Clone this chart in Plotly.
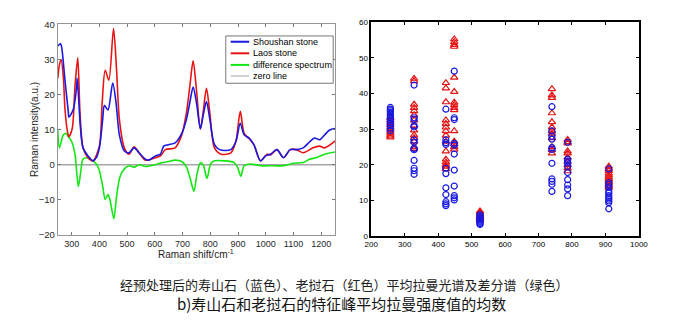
import plotly.graph_objects as go

# ---------------- data: left panel (spectra) ----------------
shift_blue = [250, 260, 264, 276, 288, 290, 306, 318, 320, 332, 341, 359, 377, 389, 400, 412, 418, 431, 448,
              460, 472, 490, 507, 525, 543, 566, 578, 602, 620, 632, 649, 673, 697, 714, 726, 738, 750, 764,
              774, 786, 798, 815, 833, 874, 892, 908, 922, 940, 957, 981, 999, 1017, 1040, 1064, 1088, 1111,
              1135, 1159, 1176, 1194, 1212, 1230, 1250]
shoushan = [33.8, 34.5, 33.5, 24.0, 15.0, 13.5, 15.8, 22.3, 24.6, 10.3, 4.8, 2.5, 1.1, 2.0, 4.8, 13.0, 16.9,
            15.6, 23.3, 17.7, 8.5, 3.9, 3.4, 4.8, 3.4, 1.6, 1.3, 2.5, 3.0, 5.3, 5.7, 6.2, 8.9, 13.0, 17.7,
            22.1, 17.7, 10.3, 14.0, 18.0, 13.0, 5.7, 4.3, 4.3, 6.6, 11.8, 8.5, 7.6, 5.7, 1.1, 2.5, 3.0, 4.3,
            2.0, 4.3, 4.3, 4.8, 6.6, 7.6, 7.1, 8.5, 9.9, 10.3]

shift_red = [250, 256, 262, 270, 276, 285, 290, 302, 312, 322, 330, 341, 359, 377, 400, 410, 421, 434, 451,
             462, 472, 490, 507, 525, 543, 566, 602, 620, 638, 673, 697, 714, 726, 738, 750, 764, 774, 786,
             798, 815, 839, 874, 892, 908, 922, 940, 957, 981, 1005, 1017, 1040, 1064, 1088, 1111, 1135,
             1170, 1194, 1212, 1250]
laos = [24.6, 28.5, 30.0, 25.0, 15.8, 9.4, 8.0, 10.3, 22.3, 30.5, 14.9, 4.8, 2.0, 1.1, 5.3, 17.7, 26.9, 24.1,
        38.8, 26.9, 13.0, 4.8, 3.0, 5.1, 3.4, 1.3, 2.0, 2.5, 4.3, 4.8, 8.5, 14.9, 22.3, 29.6, 21.3, 10.1,
        14.9, 21.8, 14.9, 4.8, 3.0, 3.4, 6.6, 15.2, 8.9, 7.4, 5.7, 1.1, 3.0, 2.8, 4.3, 2.0, 4.3, 4.3, 3.4,
        4.8, 5.3, 4.8, 6.8]

shift_green = [250, 256, 270, 280, 288, 300, 312, 324, 332, 341, 353, 371, 389, 400, 412, 421, 431, 438, 452,
               462, 474, 490, 507, 525, 543, 566, 602, 626, 649, 673, 697, 714, 726, 741, 752, 764, 774, 788,
               801, 815, 851, 886, 898, 910, 922, 946, 981, 1028, 1064, 1099, 1135, 1159, 1182, 1212, 1250]
difference = [9.9, 4.8, 8.5, 8.9, 8.0, 6.6, 3.0, -6.2, -2.5, 1.6, 2.0, 1.3, 0.2, -1.7, -6.2, -9.9, -8.5,
              -9.9, -15.4, -9.0, -3.5, -1.2, -0.3, -0.7, 0.0, -0.5, 0.0, 0.6, 0.9, 1.3, 0.9, -0.7, -3.5, -7.6,
              -2.6, 0.5, 0.0, -3.9, 0.2, 1.1, 1.1, 0.6, -0.7, -3.3, -0.3, 0.2, -0.3, -0.3, -0.3, 0.4, 0.6,
              1.6, 2.0, 3.0, 3.6]

zero_x = [250, 1250]
zero_y = [0, 0]

series_names = ["Shoushan stone", "Laos stone", "difference spectrum", "zero line"]

# ---------------- data: right panel (peak intensity scatter) ----------------
blue_x = ([257] * 13 + [328] * 13 + [423] * 11 + [448] * 11 + [525] * 10 + [740] * 11 + [787] * 10 + [910] * 12)
blue_y = [36.1, 35.6, 35.2, 34.7, 34.2, 33.8, 33.3, 32.9, 32.3, 31.7, 31.0, 30.3, 29.6,
          42.4, 33.2, 32.7, 31.0, 30.6, 26.9, 26.3, 24.6, 24.2, 21.2, 19.0, 18.3, 17.3,
          35.6, 27.0, 26.2, 25.7, 19.0, 17.5, 13.5, 11.6, 9.6, 9.0, 8.5,
          46.3, 33.2, 32.7, 26.0, 25.5, 23.0, 18.5, 14.0, 11.3, 10.7, 10.1,
          6.0, 5.6, 5.3, 5.0, 4.7, 4.4, 4.1, 3.8, 3.5, 3.2,
          36.3, 29.5, 28.0, 27.2, 24.8, 24.3, 20.4, 16.0, 15.3, 14.5, 12.5,
          26.3, 21.5, 21.0, 20.5, 19.5, 17.8, 15.8, 14.3, 13.2, 11.3,
          18.8, 15.0, 14.5, 13.8, 12.5, 12.0, 11.3, 10.8, 10.3, 9.8, 9.3, 7.6]

red_x = ([257] * 10 + [328] * 14 + [423] * 15 + [448] * 15 + [525] * 9 + [740] * 12 + [787] * 10 + [910] * 12)
red_y = [33.2, 32.5, 31.8, 31.2, 30.5, 29.9, 29.3, 28.8, 28.2, 27.7,
         44.2, 43.5, 36.9, 36.0, 35.1, 34.0, 32.5, 31.0, 29.7, 28.3, 27.5, 26.5, 25.0, 24.5,
         43.0, 41.5, 37.6, 32.5, 31.5, 30.5, 29.5, 28.2, 26.5, 23.8, 21.5, 20.7, 20.0, 19.5, 18.8,
         55.3, 54.5, 53.7, 53.2, 44.5, 40.5, 37.5, 36.8, 36.0, 35.4, 29.5, 26.5, 25.8, 25.0, 24.3,
         6.9, 6.5, 6.2, 5.9, 5.6, 5.3, 5.0, 4.7, 4.4,
         41.3, 39.5, 38.8, 34.5, 32.0, 30.5, 29.5, 28.8, 27.5, 25.0, 24.2, 23.2,
         27.0, 26.4, 26.0, 23.8, 23.2, 22.0, 20.8, 20.0, 19.0, 18.2,
         19.5, 18.8, 18.3, 17.5, 17.0, 16.5, 16.0, 15.5, 15.0, 14.5, 14.0, 13.5]

left_yticks = [-20, -10, 0, 10, 20, 30, 40]
left_xticks = [300, 400, 500, 600, 700, 800, 900, 1000, 1100, 1200]
right_xticks = [200, 300, 400, 500, 600, 700, 800, 900, 1000]
right_yticks = [0, 10, 20, 30, 40, 50, 60]

caption1 = "经预处理后的寿山石（蓝色）、老挝石（红色）平均拉曼光谱及差分谱（绿色）"
caption2 = "b)寿山石和老挝石的特征峰平均拉曼强度值的均数"

# ---------------- styles ----------------
BLUE = "rgb(25,25,225)"
RED = "rgb(230,20,20)"
GREEN = "rgb(20,230,20)"
GRAY = "rgb(165,165,165)"
W, H = 685, 321
LAT = "Liberation Sans, Arial, sans-serif"
CJK = "Noto Sans CJK SC"

fig = go.Figure()
fig.add_trace(go.Scatter(x=zero_x, y=zero_y, mode="lines", line=dict(color=GRAY, width=1.6),
                         name=series_names[3], xaxis="x", yaxis="y", showlegend=False))
fig.add_trace(go.Scatter(x=shift_green, y=difference, mode="lines", line=dict(color=GREEN, width=1.6, shape="spline", smoothing=0.8),
                         name=series_names[2], xaxis="x", yaxis="y", showlegend=False))
fig.add_trace(go.Scatter(x=shift_red, y=laos, mode="lines", line=dict(color=RED, width=1.6, shape="spline", smoothing=0.8),
                         name=series_names[1], xaxis="x", yaxis="y", showlegend=False))
fig.add_trace(go.Scatter(x=shift_blue, y=shoushan, mode="lines", line=dict(color=BLUE, width=1.6, shape="spline", smoothing=0.8),
                         name=series_names[0], xaxis="x", yaxis="y", showlegend=False))

fig.add_trace(go.Scatter(x=red_x, y=red_y, mode="markers",
                         marker=dict(symbol="triangle-up-open", size=6.5, color=RED, line=dict(width=1.2)),
                         xaxis="x2", yaxis="y2", showlegend=False))
fig.add_trace(go.Scatter(x=blue_x, y=blue_y, mode="markers",
                         marker=dict(symbol="circle-open", size=6, color=BLUE, line=dict(width=1.2)),
                         xaxis="x2", yaxis="y2", showlegend=False))

L0, L1 = 52 / W, 336 / W
R0, R1 = 373 / W, 647 / W
ax_common = dict(showgrid=False, zeroline=False, ticks="inside", ticklen=3, mirror="ticks", showline=True)

fig.update_layout(
    width=W, height=H, margin=dict(l=0, r=0, t=0, b=0),
    paper_bgcolor="white", plot_bgcolor="white", showlegend=False,
    xaxis=dict(domain=[L0, L1], range=[250, 1250], tickvals=left_xticks, linecolor="rgb(150,150,150)",
               linewidth=1, tickcolor="rgb(120,120,120)", anchor="y",
               tickfont=dict(family=LAT, size=9, color="rgb(40,40,40)"), **ax_common),
    yaxis=dict(domain=[1 - 237 / H, 1 - 19 / H], range=[-20, 40], tickvals=left_yticks,
               linecolor="rgb(150,150,150)", linewidth=1, tickcolor="rgb(120,120,120)", anchor="x",
               tickfont=dict(family=LAT, size=9.5, color="rgb(40,40,40)"), **ax_common),
    xaxis2=dict(domain=[R0, R1], range=[200, 1000], tickvals=right_xticks, linecolor="black",
                linewidth=1.6, tickcolor="black", anchor="y2",
                tickfont=dict(family=LAT, size=8, color="black"), **ax_common),
    yaxis2=dict(domain=[1 - 238 / H, 1 - 17 / H], range=[0, 60], tickvals=right_yticks, linecolor="black",
                linewidth=1.6, tickcolor="black", anchor="x2",
                tickfont=dict(family=LAT, size=8, color="black"), **ax_common),
)

# axis titles
fig.add_annotation(x=28 / W, y=1 - 128 / H, xref="paper", yref="paper", text="Raman intensity(a.u.)",
                   textangle=-90, showarrow=False, xanchor="center", yanchor="middle",
                   font=dict(family=LAT, size=10, color="rgb(30,30,30)"))
fig.add_annotation(x=194 / W, y=1 - 257 / H, xref="paper", yref="paper", text="Raman shift/cm<sup>-1</sup>",
                   showarrow=False, xanchor="center", yanchor="middle",
                   font=dict(family=LAT, size=10, color="rgb(30,30,30)"))

# custom legend (box + samples + labels)
fig.add_shape(type="rect", xref="paper", yref="paper", x0=224 / W, x1=334 / W, y0=1 - 80 / H, y1=1 - 31 / H,
              line=dict(color="rgb(120,120,120)", width=1), fillcolor="white")
leg_colors = [BLUE, RED, GREEN, GRAY]
leg_widths = [2, 2, 2, 1]
leg_rows = [37, 49, 61, 72.5]
for name, c, lw, ry in zip(series_names, leg_colors, leg_widths, leg_rows):
    fig.add_shape(type="line", xref="paper", yref="paper", x0=229 / W, x1=248 / W, y0=1 - ry / H, y1=1 - ry / H,
                  line=dict(color=c, width=lw))
    fig.add_annotation(x=250 / W, y=1 - ry / H, xref="paper", yref="paper", text=name, xanchor="left",
                       yanchor="middle", showarrow=False, font=dict(family=LAT, size=9, color="black"))

# captions
fig.add_annotation(x=346 / W, y=1 - 288 / H, xref="paper", yref="paper", text=caption1, showarrow=False,
                   xanchor="center", yanchor="middle", font=dict(family=CJK, size=13, color="rgb(30,30,30)"))
fig.add_annotation(x=343 / W, y=1 - 308 / H, xref="paper", yref="paper", text=caption2, showarrow=False,
                   xanchor="center", yanchor="middle", font=dict(family=CJK, size=15, color="rgb(20,20,20)"))

fig.write_html("out.html")
